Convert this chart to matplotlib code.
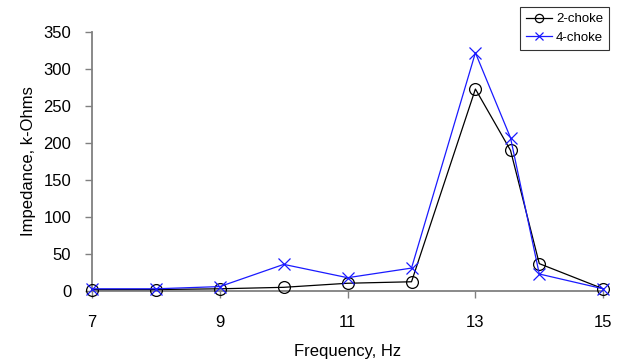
import matplotlib
matplotlib.use("Agg")
import matplotlib.pyplot as plt

plt.rcParams['font.family'] = ['Liberation Sans', 'DejaVu Sans']

freq = [7, 8, 9, 10, 11, 12, 13, 13.55, 14, 15]
choke2 = [2, 2, 3, 5, 10.5, 12.5, 273, 190, 37, 3]
choke4 = [3, 3, 6, 36, 18, 31, 322, 207, 23, 3]
xticks = [7, 9, 11, 13, 15]
yticks = [0, 50, 100, 150, 200, 250, 300, 350]

fig = plt.figure(figsize=(6.18, 3.64), dpi=100)
ax = fig.add_axes([0.149, 0.2005, 0.827, 0.7115])
ax.plot(freq, choke2, color='black', lw=0.9, marker='o', ms=8.5,
        mfc='none', mec='black', mew=0.9, label='2-choke', clip_on=False, zorder=3)
ax.plot(freq, choke4, color='#1a1aff', lw=0.9, marker='x', ms=8.5,
        mec='#1a1aff', mew=0.9, label='4-choke', clip_on=False, zorder=4)
ax.set_xlim(7, 15)
ax.set_ylim(0, 350)
ax.set_xticks(xticks)
ax.set_yticks(yticks)
for s in ['top', 'right']:
    ax.spines[s].set_visible(False)
for s in ['left', 'bottom']:
    ax.spines[s].set_color('#808080')
    ax.spines[s].set_linewidth(1.3)
ax.tick_params(direction='out', length=5, width=1.0, color='#808080',
               labelsize=12)
ax.tick_params(axis='x', pad=12.5)
ax.tick_params(axis='y', pad=10)
ax.set_xlabel('Frequency, Hz', fontsize=12, labelpad=10)
ax.set_ylabel('Impedance, k-Ohms', fontsize=12, labelpad=5)
leg = ax.legend(loc='upper right', bbox_to_anchor=(1.0117, 1.0965), fontsize=9.5,
                frameon=True, fancybox=False, edgecolor='black',
                handlelength=2.0, handletextpad=0.3, borderpad=0.45,
                labelspacing=0.5, borderaxespad=0, markerscale=0.7)
leg.get_frame().set_linewidth(0.8)
fig.savefig('out.png', dpi=100)
